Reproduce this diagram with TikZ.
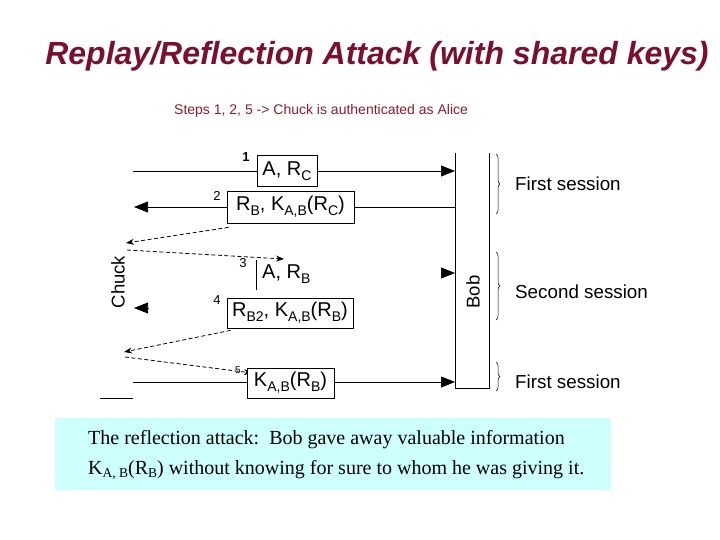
\documentclass[tikz,border=0pt]{standalone}
\usepackage{fontspec}
\setmainfont{Liberation Sans}
\newfontfamily\notefont{Liberation Serif}
\usetikzlibrary{arrows.meta,decorations.pathreplacing}
\definecolor{titlered}{RGB}{122,16,48}
\definecolor{subred}{RGB}{140,28,45}
\definecolor{notecyan}{RGB}{206,255,255}
\newcommand\lsub[1]{\raisebox{-0.45ex}{\fontsize{14}{14}\selectfont #1}}
\newcommand\nsub[1]{\raisebox{-0.35ex}{\fontsize{13.5}{13.5}\selectfont #1}}
\begin{document}
\begin{tikzpicture}[x=1pt,y=-1pt,
  msgbox/.style={draw, line width=0.7pt, inner sep=0pt, fill=white, font=\fontsize{20}{20}\selectfont},
  msgline/.style={line width=0.7pt},
  bigtip/.style={-{Triangle[length=14pt,width=11pt]}},
  dashedarrow/.style={dashed, line width=0.8pt, dash pattern=on 4pt off 2.5pt, -{Stealth[length=8pt,width=6pt]}},
  numlbl/.style={font=\fontsize{13}{13}\selectfont, inner sep=0pt},
  sessbrace/.style={decorate, decoration={brace, amplitude=4pt}, line width=0.5pt},
  sesslbl/.style={anchor=west, font=\fontsize{18.8}{19}\selectfont, inner sep=0pt},
  actor/.style={rotate=90, font=\fontsize{18.5}{18.5}\selectfont, inner sep=0pt},
  notetext/.style={anchor=west, inner sep=0pt, font=\notefont\fontsize{20}{20}\selectfont}
]
\useasboundingbox (0,0) rectangle (720,540);

% title
\node[font=\fontsize{32}{34}\selectfont\bfseries\itshape, text=titlered] (title) at (377,56) {Replay/Reflection Attack (with shared keys)};
\node[anchor=west, font=\fontsize{14}{14}\selectfont, text=subred, inner sep=0pt] (sub) at (174,111) {Steps 1, 2, 5 -> Chuck is authenticated as Alice};

% Bob bar
\draw[line width=0.7pt] (455,153) -- (455,388) -- (489,388) -- (489,153);
\node[actor] (bob) at (473,292) {Bob};
\node[actor] (chuck) at (118,282) {Chuck};

% session braces
\draw[sessbrace] (496,154) -- (496,214);
\draw[sessbrace] (496,252) -- (496,320);
\draw[sessbrace] (496,362) -- (496,391);
\node[sesslbl] (s1) at (515,184) {First session};
\node[sesslbl] (s2) at (515,292) {Second session};
\node[sesslbl] (s3) at (515,382) {First session};

% endpoints
\coordinate (c1) at (133,171);
\coordinate (b1) at (455,171);
\coordinate (c2) at (134,207);
\coordinate (b2) at (455,207);
\coordinate (b3s) at (441,273);
\coordinate (b3) at (455,273);
\coordinate (c4s) at (148,308);
\coordinate (c4) at (134,308);
\coordinate (c5) at (133,382);
\coordinate (b5) at (455,382);
\coordinate (cl1) at (126,243);
\coordinate (cl2) at (127,250);
\coordinate (t3) at (284,259);
\coordinate (cl3) at (124,352);
\coordinate (cl4) at (125,357);
\coordinate (t5) at (252,373);
\coordinate (bl1) at (100,398);
\coordinate (bl2) at (133,398);
\coordinate (v3a) at (256,260);
\coordinate (v3b) at (256,290);

% message 1
\node[msgbox, minimum width=60pt, minimum height=31pt] (m1) at (287,171) {A, R\lsub{C}};
\draw[msgline] (c1) -- (m1);
\draw[msgline, bigtip] (m1) -- (b1);
\node[numlbl, font=\fontsize{13}{13}\selectfont\bfseries] (n1) at (246,157) {1};

% message 2
\node[msgbox, minimum width=127pt, minimum height=32pt] (m2) at (290.5,207) {R\lsub{B}, K\lsub{A,B}(R\lsub{C})};
\draw[msgline] (b2) -- (m2);
\draw[msgline, bigtip] (m2) -- (c2);
\node[numlbl] (n2) at (217,196) {2};

% reflection dashed arrows
\draw[dashedarrow] ([xshift=2pt,yshift=-4pt]m2.south west) -- (cl1);
\draw[dashedarrow] (cl2) -- (t3);

% message 3
\node[numlbl] (n3) at (243,263) {3};
\draw[msgline] (v3a) -- (v3b);
\node[anchor=west, inner sep=0pt, font=\fontsize{20}{20}\selectfont] (m3) at (262,274) {A, R\lsub{B}};
\draw[msgline, bigtip] (b3s) -- (b3);

% message 4
\node[msgbox, minimum width=126pt, minimum height=30pt] (m4) at (290,313) {R\lsub{B2}, K\lsub{A,B}(R\lsub{B})};
\node[numlbl] (n4) at (217,300) {4};
\draw[msgline, bigtip] (c4s) -- (c4);
\draw[dashedarrow] ([xshift=4pt,yshift=-2pt]m4.south west) -- (cl3);
\draw[dashedarrow] (cl4) -- (t5);
\node[numlbl, font=\fontsize{10}{10}\selectfont] (n5) at (238,370) {5};

% message 5
\node[msgbox, minimum width=87pt, minimum height=30pt] (m5) at (290.5,383) {K\lsub{A,B}(R\lsub{B})};
\draw[msgline] (c5) -- (c5 -| m5.west);
\draw[msgline, bigtip] (b5 -| m5.east) -- (b5);
\draw[msgline] (bl1) -- (bl2);

% note
\node[fill=notecyan, minimum width=556pt, minimum height=72pt, inner sep=0pt] (note) at (333,454) {};
\node[notetext] (l1) at (88,440) {The reflection attack:\ \ Bob gave away valuable information};
\node[notetext] (l2) at (88,470) {K\nsub{A, B}(R\nsub{B}) without knowing for sure to whom he was giving it.};
\end{tikzpicture}
\end{document}
